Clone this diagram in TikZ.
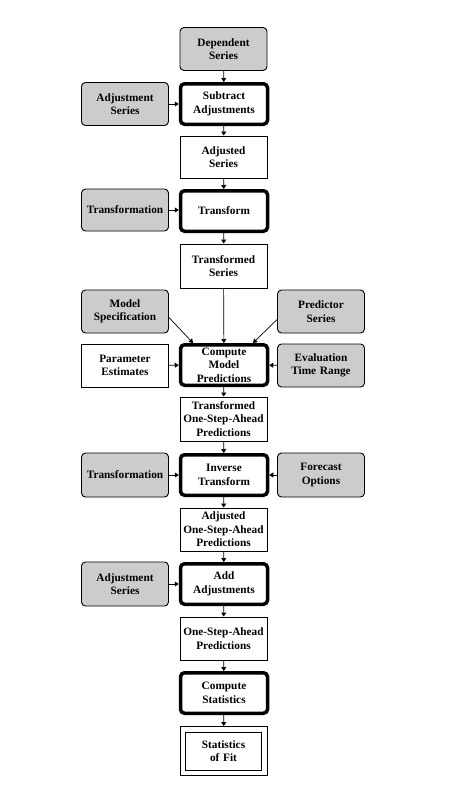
\documentclass[tikz,border=0pt]{standalone}
\usepackage{fontspec}
\setmainfont{Liberation Serif}
\usetikzlibrary{arrows.meta}
\definecolor{boxgray}{RGB}{204,204,204}
\tikzset{
  x=1pt,y=1pt,
  base/.style={align=center,inner sep=1pt,font=\bfseries\fontsize{11.3}{13.5}\selectfont,text width=85pt},
  inbox/.style={base,draw=black,line width=0.9pt,fill=boxgray,rounded corners=4pt,minimum width=86pt,minimum height=43pt},
  databox/.style={base,draw=black,line width=0.9pt,fill=white,minimum width=86pt,minimum height=43pt},
  procbox/.style={base,draw=black,line width=3.5pt,fill=white,rounded corners=4pt,minimum width=84.5pt,minimum height=40.5pt},
  arr/.style={line width=0.7pt,-{Triangle[length=4pt,width=5pt]}}
}
\begin{document}
\begin{tikzpicture}
\useasboundingbox (0,0) rectangle (467,-798);
\fill[white] (0,0) rectangle (467,-798);
\node[inbox] (dep) at (223.5,-49) {Dependent\\Series};
\node[inbox] (adja) at (125,-104) {Adjustment\\Series};
\node[procbox] (sub) at (224,-104) {Subtract\\Adjustments};
\node[databox,minimum height=42pt] (adjs) at (223.5,-157) {Adjusted\\Series};
\node[inbox,minimum height=42pt] (trna) at (125,-210) {Transformation};
\node[procbox] (trf) at (224,-211) {Transform};
\node[databox,minimum height=44pt] (trs) at (223.5,-266) {Transformed\\Series};
\node[inbox] (mspec) at (125,-311.5) {Model\\Specification};
\node[inbox] (pred) at (321,-311.5) {Predictor\\Series};
\node[databox] (param) at (125,-365.5) {Parameter\\Estimates};
\node[procbox] (cmp) at (224,-365) {Compute\\Model\\Predictions};
\node[inbox] (eval) at (321,-365.5) {Evaluation\\Time Range};
\node[databox,minimum height=44pt] (tosa) at (223.5,-419) {Transformed\\One-Step-Ahead\\Predictions};
\node[inbox,minimum height=44pt] (trnb) at (125,-475) {Transformation};
\node[procbox] (inv) at (224,-475) {Inverse\\Transform};
\node[inbox,minimum height=44pt] (fore) at (321,-475) {Forecast\\Options};
\node[databox] (aosa) at (223.5,-529.5) {Adjusted\\One-Step-Ahead\\Predictions};
\node[inbox,minimum height=44pt] (adjb) at (125,-584) {Adjustment\\Series};
\node[procbox] (add) at (224,-584) {Add\\Adjustments};
\node[databox] (osa) at (223.5,-638.5) {One-Step-Ahead\\Predictions};
\node[procbox] (cst) at (224,-693) {Compute\\Statistics};
\node[databox,minimum width=86pt,minimum height=49pt] (statout) at (223.5,-751) {};
\node[databox,minimum width=76pt,minimum height=38pt,text width=74pt] (stat) at (223.5,-751) {Statistics\\of Fit};
\draw[arr] (dep) -- (sub);
\draw[arr] (adja) -- (sub);
\draw[arr] (sub) -- (adjs);
\draw[arr] (adjs) -- (trf);
\draw[arr] (trna.east) -- (trna.east -| trf.west);
\draw[arr] (trf) -- (trs);
\draw[arr] (trs) -- (cmp);
\draw[arr] ([yshift=-6pt]mspec.east) -- ([xshift=-31pt]cmp.north);
\draw[arr] ([yshift=-8pt]pred.west) -- ([xshift=29pt]cmp.north);
\draw[arr] (param) -- (cmp);
\draw[arr] (eval) -- (cmp);
\draw[arr] (cmp) -- (tosa);
\draw[arr] (tosa) -- (inv);
\draw[arr] (trnb) -- (inv);
\draw[arr] (fore) -- (inv);
\draw[arr] (inv) -- (aosa);
\draw[arr] (aosa) -- (add);
\draw[arr] (adjb) -- (add);
\draw[arr] (add) -- (osa);
\draw[arr] (osa) -- (cst);
\draw[arr] (cst) -- (statout);
\end{tikzpicture}
\end{document}
